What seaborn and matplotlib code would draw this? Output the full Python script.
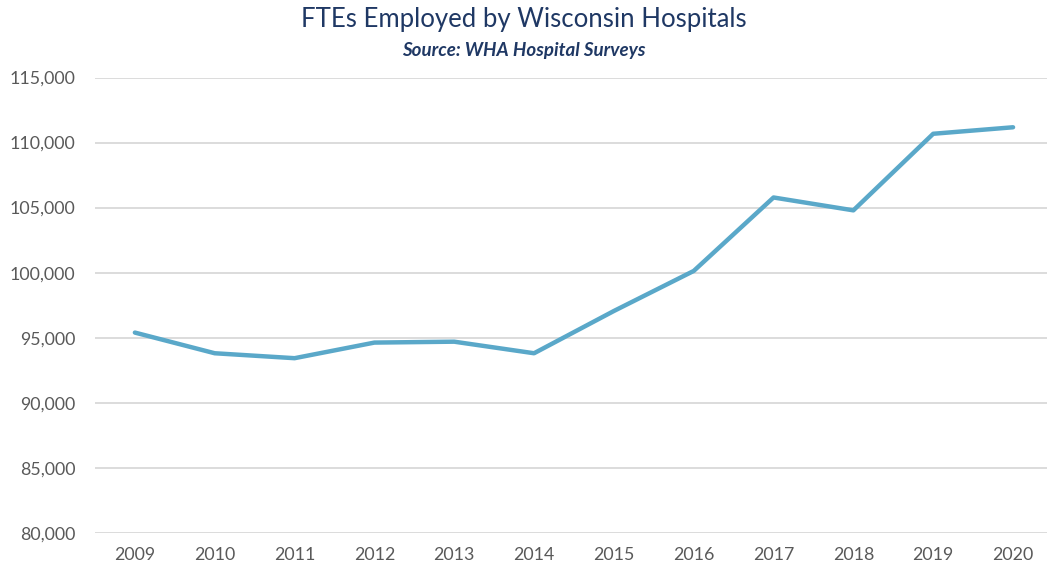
import matplotlib
matplotlib.use("Agg")
import matplotlib.pyplot as plt
import seaborn as sns
import pandas as pd
from matplotlib.ticker import FuncFormatter

# data
years = ["2009", "2010", "2011", "2012", "2013", "2014",
         "2015", "2016", "2017", "2018", "2019", "2020"]
ftes = [95390, 93800, 93420, 94620, 94690, 93800,
        97050, 100130, 105780, 104790, 110680, 111180]

df = pd.DataFrame({"year": years, "ftes": ftes})

sns.set_style("white")
plt.rcParams["font.family"] = ["Lato", "DejaVu Sans"]

fig = plt.figure(figsize=(10.47, 5.71), dpi=100)
ax = fig.add_axes([0.0907, 0.0671, 0.915, 0.797])

sns.lineplot(data=df, x="year", y="ftes", ax=ax, color="#5aa8c9",
             linewidth=3.2, sort=False)

ax.set_xlim(-0.5, 11.5)
ax.set_ylim(80000, 115000)
ax.set_yticks(range(80000, 115001, 5000))
ax.yaxis.set_major_formatter(FuncFormatter(lambda v, p: f"{int(v):,}"))
ax.grid(axis="y", color="#d9d9d9", linewidth=1.3)
ax.set_axisbelow(True)
for s in ax.spines.values():
    s.set_visible(False)
ax.tick_params(axis="both", length=0, labelsize=12.8, colors="#595959")
ax.tick_params(axis="y", pad=14)
ax.tick_params(axis="x", pad=10)
ax.set_xlabel("")
ax.set_ylabel("")

fig.text(0.5, 0.966, "FTEs Employed by Wisconsin Hospitals", ha="center",
         va="center", fontsize=18.5, color="#1f3864")
fig.text(0.5, 0.912, "Source: WHA Hospital Surveys", ha="center",
         va="center", fontsize=13.5, color="#1f3864", style="italic",
         fontweight="bold")

fig.savefig("out.png", dpi=100)
